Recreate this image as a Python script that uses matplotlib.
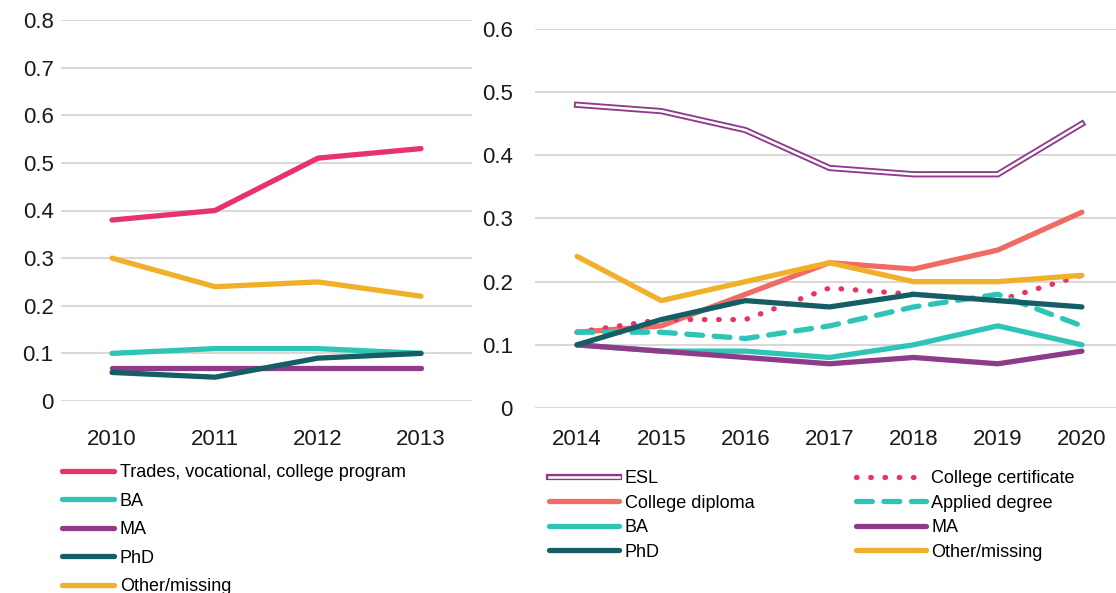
import matplotlib.pyplot as plt
from matplotlib.lines import Line2D

plt.rcParams['font.family'] = ['Liberation Sans Narrow', 'Liberation Sans', 'DejaVu Sans']

# left panel
years_a = ['2010', '2011', '2012', '2013']
trades = [0.38, 0.40, 0.51, 0.53]
ba_a = [0.10, 0.11, 0.11, 0.10]
ma_a = [0.07, 0.07, 0.07, 0.07]
phd_a = [0.06, 0.05, 0.09, 0.10]
other_a = [0.30, 0.24, 0.25, 0.22]

# right panel
years_b = ['2014', '2015', '2016', '2017', '2018', '2019', '2020']
esl = [0.48, 0.47, 0.44, 0.38, 0.37, 0.37, 0.45]
col_cert = [0.12, 0.14, 0.14, 0.19, 0.18, 0.17, 0.21]
col_dipl = [0.12, 0.13, 0.18, 0.23, 0.22, 0.25, 0.31]
applied = [0.12, 0.12, 0.11, 0.13, 0.16, 0.18, 0.13]
ba_b = [0.10, 0.09, 0.09, 0.08, 0.10, 0.13, 0.10]
ma_b = [0.10, 0.09, 0.08, 0.07, 0.08, 0.07, 0.09]
phd_b = [0.10, 0.14, 0.17, 0.16, 0.18, 0.17, 0.16]
other_b = [0.24, 0.17, 0.20, 0.23, 0.20, 0.20, 0.21]

PINK = '#E8336A'
TEAL = '#2EC4B6'
PURPLE = '#8E3B8A'
DARK = '#155E66'
GOLD = '#F0B02A'
SALMON = '#F06B63'
GRID = '#D9D9D9'
LW = 3.8

W, H = 1116, 593
fig = plt.figure(figsize=(W / 100, H / 100), dpi=100)


def px_axes(x0, x1, ytop, ybot):
    return fig.add_axes([x0 / W, (H - ybot) / H, (x1 - x0) / W, (ybot - ytop) / H])


def style(ax, ymax, ypad, xpad):
    ax.set_ylim(0, ymax)
    for s in ax.spines.values():
        s.set_visible(False)
    ax.grid(axis='y', color=GRID, lw=1.5)
    ax.set_axisbelow(True)
    ax.tick_params(length=0, labelsize=16, colors='#1a1a1a')
    ax.tick_params(axis='y', pad=ypad)
    ax.tick_params(axis='x', pad=xpad)
    ax.set_yticks([i / 10 for i in range(int(round(ymax * 10)) + 1)])
    ax.set_yticklabels(['0'] + ['%.1f' % (i / 10) for i in range(1, int(round(ymax * 10)) + 1)])


ax1 = px_axes(60.5, 472.5, 20, 401)
x = range(len(years_a))
ax1.plot(x, trades, color=PINK, lw=LW, solid_capstyle='round', label='Trades, vocational, college program')
ax1.plot(x, ba_a, color=TEAL, lw=LW, solid_capstyle='round', label='BA')
ax1.plot(x, ma_a, color=PURPLE, lw=LW, solid_capstyle='round', label='MA')
ax1.plot(x, phd_a, color=DARK, lw=LW, solid_capstyle='round', label='PhD')
ax1.plot(x, other_a, color=GOLD, lw=LW, solid_capstyle='round', label='Other/missing')
ax1.set_xlim(-0.5, len(years_a) - 0.5)
ax1.set_xticks(list(x))
ax1.set_xticklabels(years_a)
style(ax1, 0.8, 5, 20)

ax1.legend(loc='upper left', bbox_to_anchor=(62 / W, (H - 464) / H), bbox_transform=fig.transFigure,
           frameon=False, fontsize=13, handlelength=2.9, handletextpad=0.3, labelspacing=0.64,
           borderaxespad=0, borderpad=0)

ax2 = px_axes(535, 1124, 29, 408)
x = range(len(years_b))
ax2.plot(x, esl, color=PURPLE, lw=4.5, solid_joinstyle='miter')
ax2.plot(x, esl, color='white', lw=1.8, solid_joinstyle='miter')
ax2.plot(x, col_dipl, color=SALMON, lw=LW, solid_capstyle='round')
ax2.plot(x, col_cert, color=PINK, lw=LW, ls=(0, (0.1, 2.6)), dash_capstyle='round')
ax2.plot(x, applied, color=TEAL, lw=LW, ls=(0, (3.0, 2.2)), dash_capstyle='round')
ax2.plot(x, ba_b, color=TEAL, lw=LW, solid_capstyle='round')
ax2.plot(x, ma_b, color=PURPLE, lw=LW, solid_capstyle='round')
ax2.plot(x, other_b, color=GOLD, lw=LW, solid_capstyle='round')
ax2.plot(x, phd_b, color=DARK, lw=LW, solid_capstyle='round')
ax2.set_xlim(-0.5, len(years_b) - 0.5)
ax2.set_xticks(list(x))
ax2.set_xticklabels(years_b)
style(ax2, 0.6, 16, 15)

esl_h = (Line2D([], [], color=PURPLE, lw=4.5), Line2D([], [], color='white', lw=1.8))
handles = [
    esl_h,
    Line2D([], [], color=SALMON, lw=LW, solid_capstyle='round'),
    Line2D([], [], color=TEAL, lw=LW, solid_capstyle='round'),
    Line2D([], [], color=DARK, lw=LW, solid_capstyle='round'),
    Line2D([], [], color=PINK, lw=LW, ls=(0, (0.1, 2.6)), dash_capstyle='round'),
    Line2D([], [], color=TEAL, lw=LW, ls=(0, (3.0, 2.2)), dash_capstyle='round'),
    Line2D([], [], color=PURPLE, lw=LW, solid_capstyle='round'),
    Line2D([], [], color=GOLD, lw=LW, solid_capstyle='round'),
]
labels = ['ESL', 'College diploma', 'BA', 'PhD',
          'College certificate', 'Applied degree', 'MA', 'Other/missing']
ax2.legend(handles, labels, loc='upper left', bbox_to_anchor=(549 / W, (H - 470) / H),
           bbox_transform=fig.transFigure, ncol=2, frameon=False, fontsize=13,
           handlelength=3.9, handletextpad=0.3, labelspacing=0.42, columnspacing=5.6,
           borderaxespad=0, borderpad=0)

fig.savefig('out.png', dpi=100)
